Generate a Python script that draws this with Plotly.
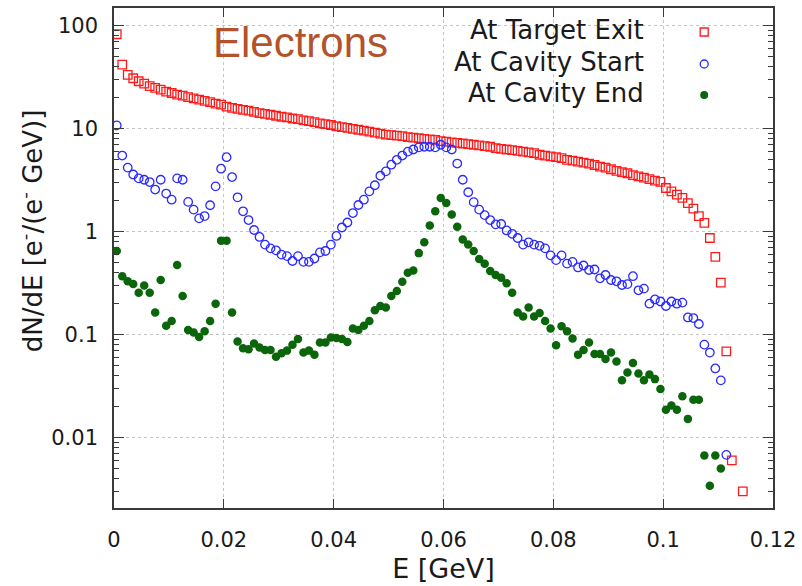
import plotly.graph_objects as go

# Energy bins: 1 MeV wide, centres from 0.0005 GeV upward
n_bins = 115
energy = [round(0.0005 + 0.001 * i, 4) for i in range(n_bins)]

# dN/dE at the target exit (bin 0.1135 empty)
target_exit = [
    83, 42, 33.5, 31, 29, 27.5, 26, 25, 24, 23,
    22.3, 21.5, 21, 20.3, 19.8, 19.2, 18.7, 18.2, 17.6, 17.2,
    16.4, 16.0, 15.6, 15.3, 15.0, 14.6, 14.2, 14.0, 13.7, 13.4,
    13.1, 12.9, 12.6, 12.4, 12.1, 11.9, 11.6, 11.3, 11.1, 10.9,
    10.6, 10.4, 10.2, 10.0, 9.8, 9.6, 9.4, 9.2, 9.0, 8.8,
    8.7, 8.6, 8.5, 8.3, 8.2, 8.1, 8.0, 7.9, 7.8, 7.6,
    7.5, 7.4, 7.3, 7.2, 7.1, 7.0, 6.9, 6.8, 6.7, 6.5,
    6.4, 6.3, 6.2, 6.1, 6.0, 5.9, 5.8, 5.6, 5.5, 5.4,
    5.3, 5.2, 5.0, 4.9, 4.8, 4.7, 4.6, 4.45, 4.3, 4.2,
    4.05, 3.9, 3.8, 3.7, 3.55, 3.45, 3.35, 3.25, 3.14, 3.05,
    2.66, 2.47, 2.29, 2.13, 1.9, 1.68, 1.42, 1.22, 0.87, 0.57,
    0.32, 0.0687, 0.006, None, 0.003,
]

# dN/dE at the cavity start
cavity_start = [
    10.8, 5.5, 4.2, 3.6, 3.3, 3.2, 3.04, 2.57, 3.2, 2.35,
    2.05, 3.3, 3.2, 1.95, 1.64, 1.35, 1.42, 1.81, 2.76, 4.1,
    5.3, 3.4, 2.16, 1.58, 1.3, 1.04, 0.89, 0.75, 0.69, 0.66,
    0.60, 0.58, 0.52, 0.58, 0.51, 0.51, 0.55, 0.63, 0.65, 0.75,
    0.91, 1.10, 1.23, 1.52, 1.82, 2.05, 2.47, 2.83, 3.5, 3.86,
    4.48, 5.0, 5.5, 6.0, 6.3, 6.6, 6.7, 6.7, 6.6, 7.0,
    6.6, 6.3, 4.6, 3.2, 2.42, 1.94, 1.64, 1.45, 1.30, 1.18,
    1.19, 1.03, 0.955, 0.87, 0.75, 0.79, 0.75, 0.73, 0.69, 0.59,
    0.53, 0.59, 0.49, 0.51, 0.45, 0.47, 0.425, 0.43, 0.353, 0.38,
    0.34, 0.33, 0.304, 0.31, 0.37, 0.27, 0.28, 0.20, 0.22, 0.21,
    0.19, 0.21, 0.20, 0.205, 0.147, 0.145, 0.127, 0.080, 0.067, 0.047,
    0.036, 0.0068,
]

# dN/dE at the cavity end
cavity_end = [
    0.65, 0.37, 0.33, 0.31, 0.256, 0.30, 0.256, 0.164, 0.34, 0.122,
    0.136, 0.475, 0.238, 0.111, 0.105, 0.095, 0.108, 0.136, 0.20, 0.82,
    0.82, 0.164, 0.086, 0.074, 0.072, 0.082, 0.075, 0.071, 0.071, 0.061,
    0.066, 0.070, 0.080, 0.091, 0.067, 0.070, 0.064, 0.084, 0.084, 0.094,
    0.093, 0.091, 0.085, 0.115, 0.111, 0.122, 0.136, 0.173, 0.19, 0.184,
    0.238, 0.266, 0.327, 0.40, 0.42, 0.62, 0.79, 1.15, 1.58, 2.13,
    1.9, 1.47, 1.12, 0.84, 0.75, 0.65, 0.545, 0.49, 0.416, 0.38,
    0.358, 0.316, 0.256, 0.164, 0.15, 0.184, 0.15, 0.162, 0.136, 0.115,
    0.079, 0.121, 0.108, 0.092, 0.064, 0.071, 0.084, 0.065, 0.065, 0.058,
    0.067, 0.055, 0.036, 0.043, 0.053, 0.042, 0.036, 0.041, 0.037, 0.0297,
    0.0186, 0.0205, 0.0186, 0.0252, 0.0152, 0.0233, 0.0233, 0.0067, 0.0034, 0.0067,
    0.005,
]

x_ticks = [0, 0.02, 0.04, 0.06, 0.08, 0.1, 0.12]
x_tick_text = ["0", "0.02", "0.04", "0.06", "0.08", "0.1", "0.12"]
y_ticks = [0.01, 0.1, 1, 10, 100]
y_tick_text = ["0.01", "0.1", "1", "10", "100"]
series_names = ["At Target Exit", "At Cavity Start", "At Cavity End"]

RED = "#ff1a1a"
BLUE = "#2a2aff"
GREEN = "#0b650b"
FONT = "DejaVu Sans"
TEXT = "#1a1a1a"

fig = go.Figure()
fig.add_trace(go.Scatter(
    x=energy[:len(target_exit)], y=target_exit, mode="markers", name=series_names[0],
    marker=dict(symbol="square-open", size=8.5, color=RED, line=dict(width=1.3, color=RED)),
))
fig.add_trace(go.Scatter(
    x=energy[:len(cavity_start)], y=cavity_start, mode="markers", name=series_names[1],
    marker=dict(symbol="circle-open", size=8.5, color=BLUE, line=dict(width=1.3, color=BLUE)),
))
fig.add_trace(go.Scatter(
    x=energy[:len(cavity_end)], y=cavity_end, mode="markers", name=series_names[2],
    marker=dict(symbol="circle", size=8.5, color=GREEN),
))

# minor ticks 2..9 in every decade of the log axis
minor_vals = [m * 10.0 ** d for d in range(-3, 3) for m in range(2, 10)]

axis_common = dict(
    showline=True, linecolor="#3a3a3a", linewidth=1.6, mirror="allticks",
    ticks="inside", tickcolor="#3a3a3a", tickwidth=1.2,
    showgrid=True, gridcolor="#c4c4c4", griddash="dot", gridwidth=1,
    zeroline=False, tickfont=dict(family=FONT, size=21, color=TEXT),
)

fig.update_xaxes(
    **axis_common, range=[0, 0.12], tickvals=x_ticks, ticktext=x_tick_text,
    ticklen=9, ticklabelstandoff=12,
    title=dict(text="E [GeV]", font=dict(family=FONT, size=27, color=TEXT), standoff=8),
)
fig.update_yaxes(
    **axis_common, type="log", range=[-2.684, 2.174], tickvals=y_ticks, ticktext=y_tick_text,
    ticklen=10, ticklabelstandoff=10,
    minor=dict(tickvals=minor_vals, ticks="inside", ticklen=5, tickcolor="#3a3a3a", showgrid=False),
)

# y-axis label, set a little above the axis centre
fig.add_annotation(
    text="dN/dE [e<sup>-</sup>/(e<sup>-</sup> GeV)]", xref="paper", yref="paper",
    x=-0.1256, y=0.554, textangle=-90, xanchor="center", yanchor="middle",
    showarrow=False, font=dict(family=FONT, size=26, color=TEXT),
)

# key: right-aligned labels with the symbol to their right
key_rows = [0.956, 0.892, 0.830]
key_styles = [
    dict(type="rect", line=dict(color=RED, width=1.3), fillcolor="rgba(0,0,0,0)"),
    dict(type="circle", line=dict(color=BLUE, width=1.3), fillcolor="rgba(0,0,0,0)"),
    dict(type="circle", line=dict(color=GREEN, width=0), fillcolor=GREEN),
]
for name, yk, style in zip(series_names, key_rows, key_styles):
    fig.add_annotation(
        text=name, xref="paper", yref="paper", x=0.807, y=yk,
        xanchor="right", yanchor="middle", showarrow=False,
        font=dict(family=FONT, size=26, color=TEXT),
    )
    fig.add_shape(
        **style, xref="paper", yref="paper", xsizemode="pixel", ysizemode="pixel",
        xanchor=0.8956, yanchor=yk - 0.004, x0=-4, x1=4, y0=-4, y1=4,
    )

fig.add_annotation(
    text="Electrons", xref="paper", yref="paper", x=0.283, y=0.93,
    xanchor="center", yanchor="middle", showarrow=False,
    font=dict(family="Liberation Sans", size=42, color="#b3532b"),
)

fig.update_layout(
    width=802, height=586, showlegend=False,
    margin=dict(l=114, r=27, t=6, b=78),
    plot_bgcolor="white", paper_bgcolor="white",
)

fig.write_html("out.html")
